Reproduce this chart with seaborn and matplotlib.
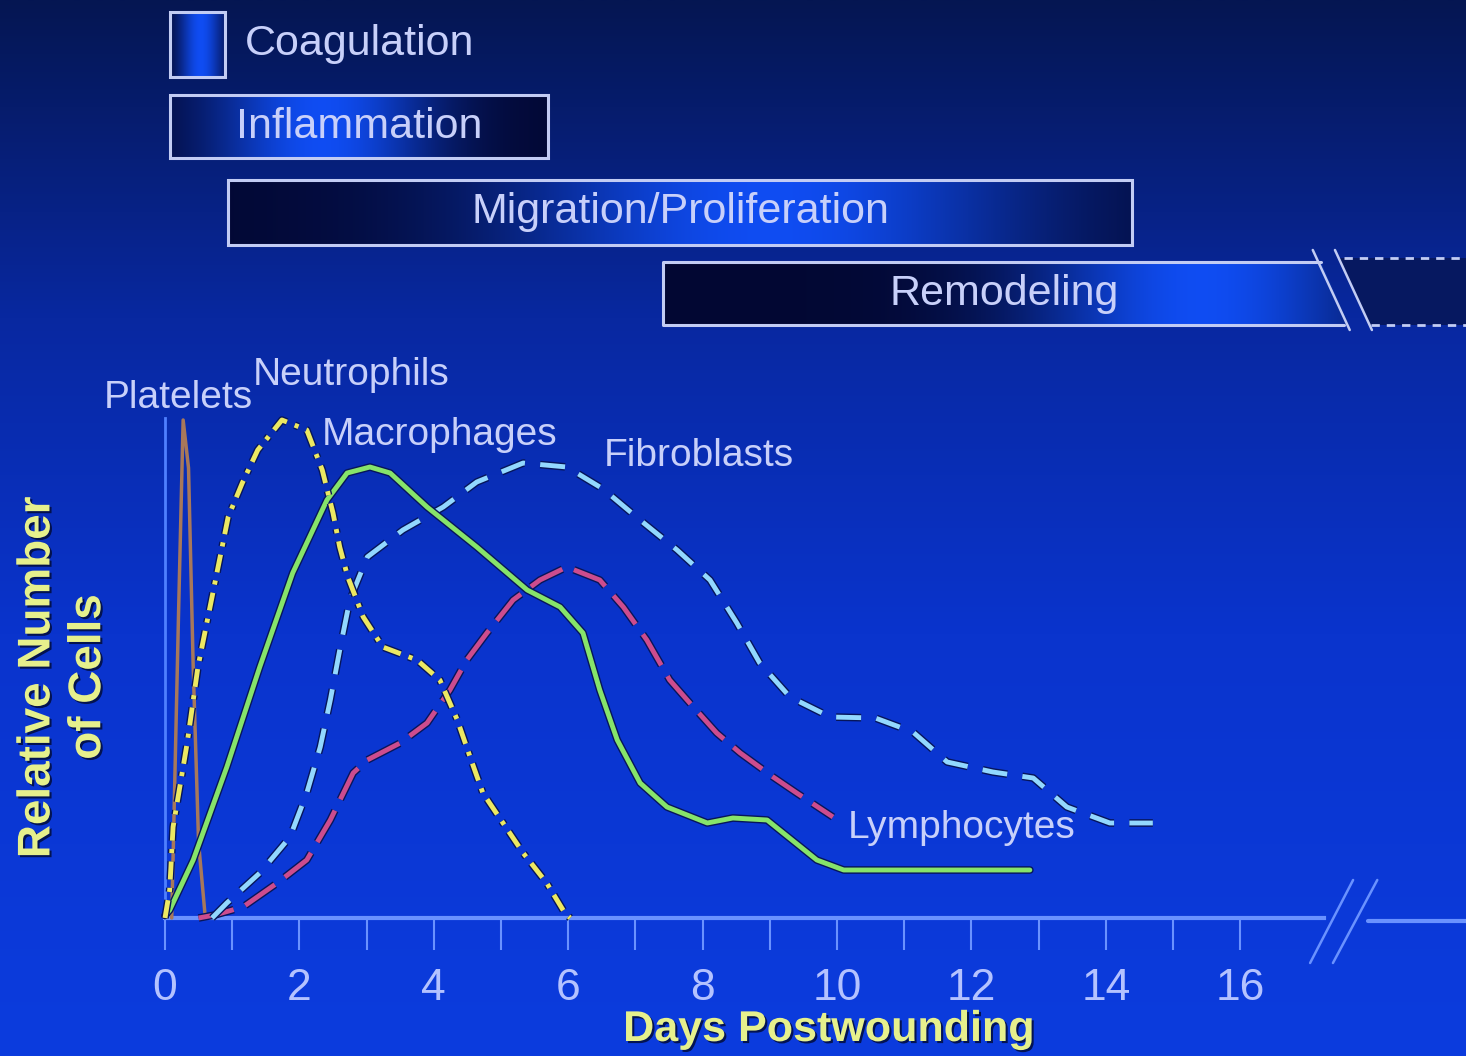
import numpy as np
import matplotlib
matplotlib.use("Agg")
import matplotlib.pyplot as plt
import matplotlib.patheffects as pe
from matplotlib.patches import Rectangle, Polygon
import seaborn as sns

# wound healing phases (days postwounding)
phase_names = ["Coagulation", "Inflammation", "Migration/Proliferation", "Remodeling"]
phase_start = [0.07, 0.07, 0.94, 7.41]
phase_end = [0.89, 5.70, 14.39, 17.4]

# relative number of cells
platelet_days = [0.10, 0.20, 0.27, 0.35, 0.42, 0.50, 0.60]
platelet_vals = [0, 60, 99.6, 90, 50, 15, 0]

neutro_days = [0.0, 0.07, 0.12, 0.33, 0.49, 0.70, 0.82, 0.94, 1.15, 1.38, 1.74, 2.11, 2.34,
               2.50, 2.60, 2.72, 2.95, 3.24, 3.75, 4.09, 4.35, 4.54, 4.73, 5.03, 5.33, 5.68, 5.95, 6.03]
neutro_vals = [0, 5.6, 18.2, 35, 50.2, 64.2, 72.2, 80.2, 87, 93.6, 99.6, 97.6, 89.6,
               81, 74.2, 68.2, 60.2, 54.2, 51.6, 47.6, 39.6, 32.2, 25, 19, 13, 7, 1, 0]

macro_days = [0.0, 0.07, 0.42, 0.92, 1.41, 1.90, 2.41, 2.71, 3.05, 3.35, 3.90, 4.64, 5.39, 5.88,
              6.22, 6.47, 6.73, 7.07, 7.47, 8.07, 8.45, 8.96, 9.20, 9.70, 10.10, 12.87]
macro_vals = [0.5, 1.6, 11.6, 30.2, 50.2, 69, 83.6, 89, 90.2, 89, 82.2, 74.2, 65.6, 62.2,
              57, 45.6, 35.6, 27, 22.2, 19, 20, 19.6, 17, 11.6, 9.6, 9.6]

fibro_days = [0.70, 0.92, 1.41, 1.86, 2.11, 2.31, 2.46, 2.60, 2.75, 3.01, 3.54, 4.14, 4.64, 5.33,
              5.98, 6.52, 7.07, 7.62, 8.11, 8.51, 8.85, 9.30, 9.90, 10.57, 11.13, 11.64, 12.32,
              12.92, 13.42, 14.06, 14.70]
fibro_vals = [0, 3, 9, 16.2, 25, 34.2, 43.6, 53.6, 63.6, 72.2, 77.6, 82.2, 87.2, 91,
              90.2, 85.8, 79.6, 73.6, 67.6, 59, 51, 44.2, 40.2, 40, 37.2, 31.2, 29.2,
              28, 22.2, 19, 19]

lympho_days = [0.50, 0.74, 1.16, 1.67, 2.11, 2.46, 2.80, 3.01, 3.50, 3.90, 4.24, 4.49, 4.79, 5.18,
               5.58, 5.98, 6.47, 6.82, 7.17, 7.51, 7.81, 8.21, 8.56, 9.05, 9.40, 9.94]
lympho_vals = [0, 0.6, 2.2, 7, 11.6, 19.6, 29, 31.6, 35, 39, 45.6, 51.6, 57, 63.6,
               67.6, 70.2, 67.6, 62.2, 55.6, 47.6, 43, 37, 33, 28.2, 25, 20.2]

tick_days = list(range(17))
tick_labels = [str(d) if d % 2 == 0 else "" for d in tick_days]

sns.set_style("white")
plt.rcParams["font.family"] = ["Liberation Sans Narrow", "Liberation Sans", "DejaVu Sans"]
plt.rcParams["lines.scale_dashes"] = False

fig = plt.figure(figsize=(14.66, 10.56), dpi=100)
ax = fig.add_axes([0, 0, 1, 1])
xlim = (-165 / 67.2, (1466 - 165) / 67.2)
ylim = (-(1056 - 918) / 5, 918 / 5)

# background: dark navy at top to bright blue at bottom
t = np.linspace(0, 1, 400)
stops = np.array([0.0, 0.3, 0.6, 1.0])
cols = np.array([[5, 22, 82], [8, 40, 160], [10, 52, 205], [12, 60, 222]]) / 255
bg = np.stack([np.interp(t, stops, cols[:, i]) for i in range(3)], axis=1)
ax.imshow(bg[:, None, :], extent=[xlim[0], xlim[1], ylim[0], ylim[1]],
          aspect="auto", zorder=0, interpolation="bilinear")

outline = "#c2ccf4"
text_col = "#c8d0fa"
shadow = [pe.withSimplePatchShadow(offset=(1.5, -1.5), shadow_rgbFace="#020a30", alpha=0.8)]


def box_fill(x0, x1, y0, y1, peak, width, clip=None):
    s = np.linspace(0, 1, 300)
    w = np.exp(-((s - peak) / width) ** 2)
    dark = np.array([0.01, 0.03, 0.20])
    bright = np.array([0.06, 0.30, 0.95])
    rgb = dark + (bright - dark) * w[:, None]
    im = ax.imshow(rgb[None, :, :], extent=[x0, x1, y0, y1], aspect="auto",
                   zorder=2, interpolation="bilinear")
    if clip is not None:
        im.set_clip_path(clip)


box_rows = [(168.2, 181.2), (152.0, 164.6), (134.6, 147.6), (118.6, 131.2)]
peaks = [(0.55, 0.4), (0.4, 0.3), (0.6, 0.3), (0.78, 0.25)]
for i, name in enumerate(phase_names):
    x0, x1 = phase_start[i], phase_end[i]
    y0, y1 = box_rows[i]
    if name == "Remodeling":
        poly = Polygon([(x0, y0), (x0, y1), (17.2, y1), (17.63, y0)], closed=True,
                       transform=ax.transData)
        box_fill(x0, 17.7, y0, y1, *peaks[i], clip=poly)
        ax.plot([17.2, x0, x0, 17.55], [y1, y1, y0, y0], color=outline, lw=2.2, zorder=3)
        ax.plot([17.08, 17.63], [133.6, 117.6], color=outline, lw=1.8, zorder=3)
        ax.plot([17.41, 17.96], [133.6, 117.6], color=outline, lw=1.8, zorder=3)
        ax.add_patch(Polygon([(17.47, 132), (xlim[1], 132), (xlim[1], y0), (17.92, y0)],
                             closed=True, fc="#061860", ec="none", zorder=2))
        ax.plot([17.55, xlim[1]], [132, 132], color=outline, lw=2, ls=(0, (6, 5)), zorder=3)
        ax.plot([17.95, xlim[1]], [y0, y0], color=outline, lw=2, ls=(0, (6, 5)), zorder=3)
        tx = 12.49
    else:
        box_fill(x0, x1, y0, y1, *peaks[i])
        ax.add_patch(Rectangle((x0, y0), x1 - x0, y1 - y0, fill=False, ec=outline,
                               lw=2.2, zorder=3))
        tx = (x0 + x1) / 2
    if name == "Coagulation":
        ax.text(1.19, (y0 + y1) / 2, name, ha="left", va="center", fontsize=31,
                color=text_col, zorder=4)
    else:
        ax.text(tx, (y0 + y1) / 2, name, ha="center", va="center", fontsize=31,
                color=text_col, zorder=4)

# cell curves
halo = [pe.Stroke(linewidth=5.5, foreground="#06155a"), pe.Normal()]
sns.lineplot(x=platelet_days, y=platelet_vals, ax=ax, color="#a8785a", lw=2.5, zorder=5)
sns.lineplot(x=lympho_days, y=lympho_vals, ax=ax, color="#cc4c8e", lw=3.5,
             linestyle=(0, (26, 9)), zorder=5, path_effects=halo)
sns.lineplot(x=fibro_days, y=fibro_vals, ax=ax, color="#92d8ff", lw=3.5,
             linestyle=(0, (18, 11)), zorder=5, path_effects=halo)
sns.lineplot(x=macro_days, y=macro_vals, ax=ax, color="#86e46a", lw=3.5, zorder=6,
             path_effects=halo)
sns.lineplot(x=neutro_days, y=neutro_vals, ax=ax, color="#ece862", lw=3.5,
             linestyle=(0, (13, 6, 3, 6)), zorder=6, path_effects=halo)

label_kw = dict(fontsize=28, color=text_col, va="center", ha="left", zorder=7)
ax.text(-0.91, 104, "Platelets", **label_kw)
ax.text(1.31, 108.6, "Neutrophils", **label_kw)
ax.text(2.34, 96.6, "Macrophages", **label_kw)
ax.text(6.53, 92.4, "Fibroblasts", **label_kw)
ax.text(10.16, 18, "Lymphocytes", **label_kw)

# axes
for side in ["top", "right"]:
    ax.spines[side].set_visible(False)
ax.spines["left"].set_position(("data", 0))
ax.spines["left"].set_bounds(0, 100)
ax.spines["left"].set_color("#4f80ff")
ax.spines["left"].set_linewidth(2)
ax.spines["bottom"].set_position(("data", 0))
ax.spines["bottom"].set_bounds(0, 17.25)
ax.spines["bottom"].set_color("#6a92ff")
ax.spines["bottom"].set_linewidth(3)
for s in ax.spines.values():
    s.set_zorder(4)
ax.plot([17.9, xlim[1]], [-0.6, -0.6], color="#6a92ff", lw=3, zorder=4)
ax.plot([17.04, 17.68], [-9, 7.6], color="#6a92ff", lw=1.8, zorder=4)
ax.plot([17.38, 18.04], [-9, 7.6], color="#6a92ff", lw=1.8, zorder=4)

ax.set_xticks(tick_days)
ax.set_xticklabels(tick_labels)
ax.set_yticks([])
ax.tick_params(axis="x", direction="out", length=23, width=1.5, color="#6a92ff",
               pad=13, labelsize=32, labelcolor="#b4c2ff", bottom=True)

ylab_col = "#e6f08c"
ax.text(9.87, -22.4, "Days Postwounding", ha="center", va="center", fontsize=31,
        fontweight="bold", color=ylab_col, path_effects=shadow)
ax.text(-1.52, 48.2, "Relative Number\nof Cells", ha="center", va="center", fontsize=33,
        fontweight="bold", color=ylab_col, rotation=90, multialignment="center",
        path_effects=shadow)

ax.set_xlim(*xlim)
ax.set_ylim(*ylim)
ax.set_xlabel("")
ax.set_ylabel("")
fig.savefig("out.png", dpi=100)
